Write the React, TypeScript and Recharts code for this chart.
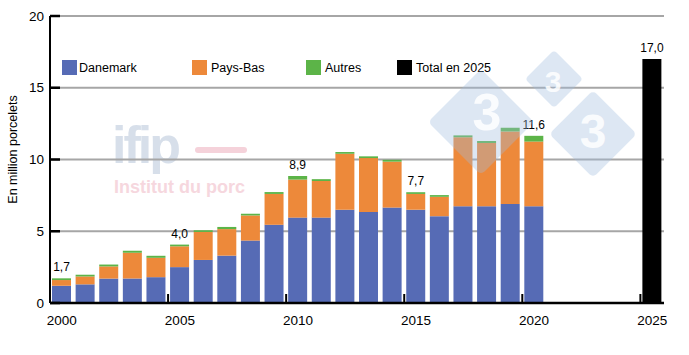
import { BarChart, Bar, XAxis, YAxis, CartesianGrid, Legend, LabelList, Label } from 'recharts';

// years on the category axis (2021-2024 are empty slots)
const years = [
  '2000', '2001', '2002', '2003', '2004', '2005', '2006', '2007', '2008', '2009',
  '2010', '2011', '2012', '2013', '2014', '2015', '2016', '2017', '2018', '2019',
  '2020', '2021', '2022', '2023', '2024', '2025',
];

// million piglets
const danemark = [
  1.2, 1.3, 1.7, 1.7, 1.8, 2.5, 3.0, 3.3, 4.35, 5.45,
  5.95, 5.95, 6.5, 6.35, 6.65, 6.5, 6.05, 6.75, 6.75, 6.9,
  6.75, null, null, null, null, null,
];
const paysBas = [
  0.4, 0.55, 0.85, 1.8, 1.35, 1.45, 1.95, 1.85, 1.75, 2.15,
  2.65, 2.55, 3.9, 3.75, 3.2, 1.1, 1.35, 4.8, 4.4, 5.05,
  4.5, null, null, null, null, null,
];
const autres = [
  0.12, 0.12, 0.13, 0.14, 0.14, 0.12, 0.12, 0.15, 0.12, 0.13,
  0.25, 0.13, 0.12, 0.12, 0.13, 0.12, 0.12, 0.13, 0.14, 0.27,
  0.4, null, null, null, null, null,
];
const totalEn2025 = [
  null, null, null, null, null, null, null, null, null, null,
  null, null, null, null, null, null, null, null, null, null,
  null, null, null, null, null, 17.0,
];
const stackLabels = [
  '1,7', '', '', '', '', '4,0', '', '', '', '',
  '8,9', '', '', '', '', '7,7', '', '', '', '',
  '11,6', '', '', '', '', '',
];
const totalLabels = [
  '', '', '', '', '', '', '', '', '', '',
  '', '', '', '', '', '', '', '', '', '',
  '', '', '', '', '', '17,0',
];
const yTicks = [0, 5, 10, 15, 20];

const seriesNames = ['Danemark', 'Pays-Bas', 'Autres', 'Total en 2025'];
const seriesColors = ['#566bb5', '#ed893a', '#5cb448', '#000000'];
const legendLeft = [62, 192, 306, 397];

const data = years.map((year, i) => ({
  year,
  danemark: danemark[i],
  paysBas: paysBas[i],
  autres: autres[i],
  total: totalEn2025[i],
  stackLabel: stackLabels[i],
  totalLabel: totalLabels[i],
}));

const FONT = '"Liberation Sans", Arial, sans-serif';

const TopLabel = (props: any) => {
  const { x, y, width, value } = props;
  if (!value) return null;
  return (
    <text x={Number(x) + Number(width) / 2} y={Number(y) - 7} textAnchor="middle" fontSize={12} fill="#000">
      {value}
    </text>
  );
};

// label under the axis + short inward tick at the left edge of the band
const XTick = (props: any) => {
  const { x, y, payload } = props;
  const axisY = y - 12;
  const edge = x - (payload.offset ?? 11.8);
  return (
    <g>
      <line x1={edge} x2={edge} y1={axisY} y2={axisY - 9} stroke="#000" strokeWidth={2} />
      <text x={x} y={y} dy="0.71em" textAnchor="middle" fontSize={13.5} fill="#000">
        {payload.value}
      </text>
    </g>
  );
};

const YTick = (props: any) => {
  const { x, y, payload } = props;
  const axisX = x + 6;
  return (
    <g>
      <line x1={axisX} x2={axisX + 10} y1={y} y2={y} stroke="#000" strokeWidth={2.5} />
      <text x={x} y={y} dy="0.35em" textAnchor="end" fontSize={13.5} fill="#000">
        {payload.value}
      </text>
    </g>
  );
};

const YTitle = (props: any) => {
  const vb = props.viewBox || { x: 22, y: 16, width: 28, height: 287 };
  const cx = vb.x - 9;
  const cy = vb.y + vb.height / 2 - 10;
  return (
    <text x={cx} y={cy} transform={`rotate(-90 ${cx} ${cy})`} textAnchor="middle" dy="0.35em" fontSize={12.5} fill="#000">
      En million porcelets
    </text>
  );
};

const LegendBox = () => (
  <div style={{ position: 'relative', height: 20, fontFamily: FONT, fontSize: 12.5, color: '#000' }}>
    {seriesNames.map((name, i) => (
      <div key={name} style={{ position: 'absolute', left: legendLeft[i], top: 3, display: 'flex', alignItems: 'center' }}>
        <div style={{ width: 15, height: 15, background: seriesColors[i] }} />
        <span style={{ marginLeft: i === 0 ? 2 : 4, whiteSpace: 'nowrap' }}>{name}</span>
      </div>
    ))}
  </div>
);

export default function App() {
  return (
    <div style={{ position: 'absolute', left: 0, top: 0, width: 689, height: 355, background: '#fff', fontFamily: FONT, overflow: 'hidden' }}>
      {/* ifip watermark, behind the chart */}
      <svg width={689} height={355} style={{ position: 'absolute', left: 0, top: 0 }}>
        <text x={112} y={163} fontSize={52} fontWeight="bold" letterSpacing={-3} fill="#d7dfea">ifip</text>
        <rect x={195} y={147} width={52} height={6} rx={3} fill="#f5d2da" />
        <text x={114} y={193} fontSize={18} fontWeight="bold" fill="#f6d7de">Institut du porc</text>
      </svg>
      <div style={{ position: 'absolute', left: 0, top: 0 }}>
        <BarChart width={689} height={355} data={data} margin={{ top: 16, right: 25, bottom: 22, left: 22 }}>
          <CartesianGrid vertical={false} stroke="#a6a6a6" strokeWidth={2} />
          <XAxis
            dataKey="year"
            interval={4}
            height={30}
            tickSize={6}
            tickMargin={6}
            tickLine={false}
            axisLine={{ stroke: '#000', strokeWidth: 2.5 }}
            tick={<XTick />}
          />
          <YAxis
            domain={[0, 20]}
            ticks={yTicks}
            width={28}
            tickSize={6}
            tickMargin={0}
            tickLine={false}
            axisLine={{ stroke: '#000', strokeWidth: 2 }}
            tick={<YTick />}
          >
            <Label content={<YTitle />} />
          </YAxis>
          <Legend layout="horizontal" verticalAlign="middle" align="center" wrapperStyle={{ left: 0, top: 57, width: 689, height: 20 }} content={<LegendBox />} />
          <Bar dataKey="danemark" name={seriesNames[0]} stackId="a" fill={seriesColors[0]} barSize={19} isAnimationActive={false} />
          <Bar dataKey="paysBas" name={seriesNames[1]} stackId="a" fill={seriesColors[1]} barSize={19} isAnimationActive={false} />
          <Bar dataKey="autres" name={seriesNames[2]} stackId="a" fill={seriesColors[2]} barSize={19} isAnimationActive={false}>
            <LabelList dataKey="stackLabel" content={<TopLabel />} />
          </Bar>
          <Bar dataKey="total" name={seriesNames[3]} stackId="a" fill={seriesColors[3]} barSize={19} isAnimationActive={false}>
            <LabelList dataKey="totalLabel" content={<TopLabel />} />
          </Bar>
        </BarChart>
      </div>
      {/* 3tres3 diamonds, drawn over the bars */}
      <svg width={689} height={355} style={{ position: 'absolute', left: 0, top: 0, pointerEvents: 'none' }}>
        <rect x={554 - 20.5} y={79 - 20.5} width={41} height={41} rx={4} transform="rotate(45 554 79)" fill="rgba(160,188,222,0.36)" />
        <rect x={481 - 37.5} y={122 - 37.5} width={75} height={75} rx={5} transform="rotate(45 481 122)" fill="rgba(160,188,222,0.36)" />
        <rect x={593 - 31} y={134 - 31} width={62} height={62} rx={5} transform="rotate(45 593 134)" fill="rgba(160,188,222,0.36)" />
        <text x={553} y={81} fontSize={30} fontWeight="bold" textAnchor="middle" dominantBaseline="central" fill="rgba(255,255,255,0.85)">3</text>
        <text x={487} y={112} fontSize={52} fontWeight="bold" textAnchor="middle" dominantBaseline="central" fill="rgba(255,255,255,0.85)">3</text>
        <text x={593} y={131} fontSize={48} fontWeight="bold" textAnchor="middle" dominantBaseline="central" fill="rgba(255,255,255,0.85)">3</text>
      </svg>
    </div>
  );
}
